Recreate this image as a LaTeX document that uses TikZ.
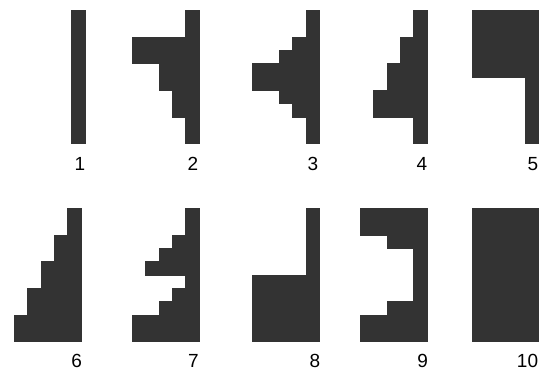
\documentclass[tikz,border=0pt]{standalone}
\usepackage{fontspec}
\setmainfont{Liberation Sans}
\definecolor{shade}{RGB}{51,51,51}
\tikzset{block/.style={fill=shade,draw=shade,line width=0.3pt},
num/.style={inner sep=0pt,font=\fontsize{19}{22}\selectfont}}

\begin{document}
\begin{tikzpicture}[x=1pt,y=-1pt]
\useasboundingbox (0,0) rectangle (543,371);

% left edge / top edge / first filled column of each of the 10 rows
\foreach \ox/\oy/\cols in {
18/10/{4,4,4,4,4,4,4,4,4,4},
132.3/10/{4,4,0,0,2,2,3,3,4,4},
252.5/10/{4,4,3,2,0,0,2,3,4,4},
360/10/{4,4,3,3,2,2,1,1,4,4},
471.7/10/{0,0,0,0,0,4,4,4,4,4},
14.3/208.3/{4,4,3,3,2,2,1,1,0,0},
132.3/208.3/{4,4,3,2,1,4,3,2,0,0},
252.5/208.3/{4,4,4,4,4,0,0,0,0,0},
360/208.3/{0,0,2,4,4,4,4,2,0,0},
471.7/208.3/{0,0,0,0,0,0,0,0,0,0}}
{
\foreach \c [count=\r from 0] in \cols
{
\fill[block] ({\ox+\c*40/3},{\oy+\r*40/3}) rectangle ({\ox+200/3},{\oy+(\r+1)*40/3});
}
}

\node[num] (n1) at (80,164) {1};
\node[num] (n2) at (193,164) {2};
\node[num] (n3) at (313,164) {3};
\node[num] (n4) at (422,164) {4};
\node[num] (n5) at (533,164) {5};
\node[num] (n6) at (76.7,361) {6};
\node[num] (n7) at (193.3,361) {7};
\node[num] (n8) at (315,361) {8};
\node[num] (n9) at (422.7,361) {9};
\node[num] (n10) at (527.5,361) {10};
\end{tikzpicture}
\end{document}
